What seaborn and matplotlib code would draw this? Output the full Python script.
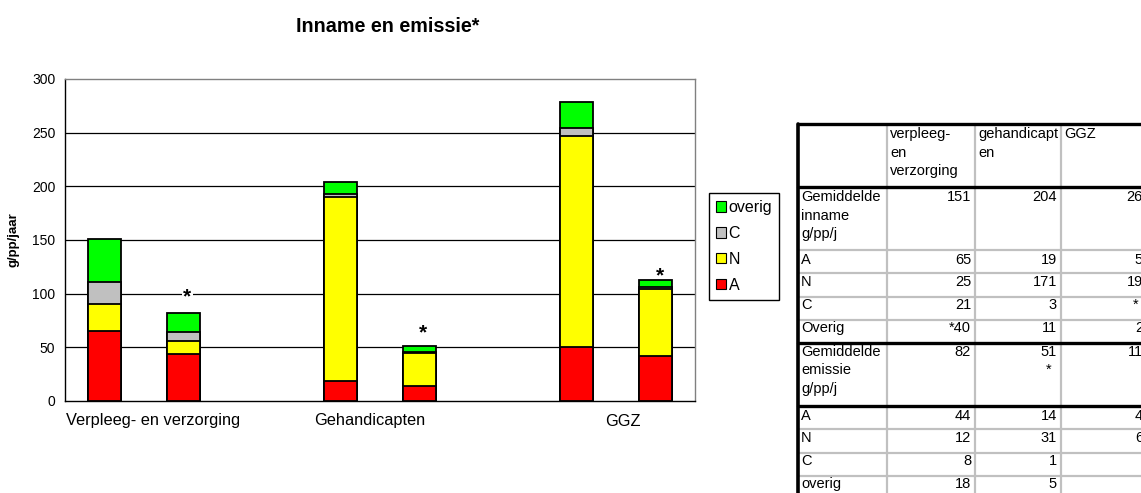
import matplotlib
matplotlib.use("Agg")
import matplotlib.pyplot as plt
import seaborn as sns
import numpy as np
import pandas as pd
from matplotlib.patches import Patch

# ---------------- data ----------------
categories = ["Verpleeg- en verzorging", "Gehandicapten", "GGZ"]
components = ["A", "N", "C", "overig"]
inname_A = [65, 19, 50]
inname_N = [25, 171, 197]
inname_C = [21, 3, 7]
inname_overig = [40, 11, 25]
emissie_A = [44, 14, 42]
emissie_N = [12, 31, 62]
emissie_C = [8, 1, 2]
emissie_overig = [18, 5, 7]
inname_total = [151, 204, 260]
emissie_total = [82, 51, 113]
star_values = [97, 63, 117]          # height of the "*" marks above the emissie bars
yticks = [0, 50, 100, 150, 200, 250, 300]

table_cols = ["verpleeg-\nen\nverzorging", "gehandicapt\nen", "GGZ"]

# ---------------- style ----------------
sns.set_theme(style="white")
plt.rcParams["font.family"] = ["Liberation Sans", "DejaVu Sans"]
plt.rcParams["text.color"] = "black"
plt.rcParams["axes.labelcolor"] = "black"
plt.rcParams["xtick.color"] = "black"
plt.rcParams["ytick.color"] = "black"

colors = {"A": "#FF0000", "N": "#FFFF00", "C": "#C0C0C0", "overig": "#00FF00"}

W, H = 1141, 493
fig = plt.figure(figsize=(W / 100, H / 100), dpi=100)
ax = fig.add_axes([65 / W, 1 - 401 / H, 630 / W, 322 / H])

# positions: inname at slot 3i, emissie at slot 3i+1
rows = []
for i, cat in enumerate(categories):
    rows.append(dict(pos=3 * i, A=inname_A[i], N=inname_N[i], C=inname_C[i], overig=inname_overig[i]))
    rows.append(dict(pos=3 * i + 1, A=emissie_A[i], N=emissie_N[i], C=emissie_C[i], overig=emissie_overig[i]))
df = pd.DataFrame(rows)
df["cum_A"] = df["A"]
df["cum_N"] = df["cum_A"] + df["N"]
df["cum_C"] = df["cum_N"] + df["C"]
df["cum_overig"] = df["cum_C"] + df["overig"]

for comp in ["overig", "C", "N", "A"]:
    sns.barplot(data=df, x="pos", y="cum_" + comp, native_scale=True, color=colors[comp],
                saturation=1, width=0.42, edgecolor="black", linewidth=1.3,
                errorbar=None, ax=ax, zorder=3)

ax.set_xlim(-0.5, 7.5)
ax.set_ylim(0, 300)
ax.set_yticks(yticks)
ax.set_yticklabels([str(v) for v in yticks], fontsize=10)
for v in yticks[1:-1]:
    ax.axhline(v, color="black", lw=0.9, zorder=1)

label_pos = [0.62, 3.37, 6.59]
ax.set_xticks(label_pos)
ax.set_xticklabels(categories, fontsize=11.8)
ax.tick_params(axis="x", length=0, pad=9)
ax.tick_params(axis="y", length=0, pad=7)
ax.set_xlabel("")
ax.set_ylabel("g/pp/jaar", fontsize=9.5, fontweight="bold", labelpad=9)

for side in ["left", "bottom"]:
    ax.spines[side].set_color("black")
    ax.spines[side].set_linewidth(1.0)
for side in ["top", "right"]:
    ax.spines[side].set_color("#808080")
    ax.spines[side].set_linewidth(1.0)
    ax.spines[side].set_visible(True)

# stars above the emissie bars
for i, sv in enumerate(star_values):
    ax.text(3 * i + 1 + 0.05, sv, "*", ha="center", va="center", fontsize=15, fontweight="bold",
            zorder=2.5, bbox=dict(facecolor="white", edgecolor="none", pad=1.0))

# title
fig.text(388 / W, 1 - 27 / H, "Inname en emissie*", ha="center", va="center",
         fontsize=14.2, fontweight="bold")

# legend
handles = [Patch(facecolor=colors[c], edgecolor="black", linewidth=0.8, label=c)
           for c in ["overig", "C", "N", "A"]]
leg = fig.legend(handles=handles, loc="upper left", bbox_to_anchor=(709 / W, 1 - 193 / H),
                 fontsize=11.5, frameon=True, fancybox=False, framealpha=1,
                 handlelength=0.62, handleheight=0.62, handletextpad=0.15,
                 labelspacing=0.68, borderpad=0.45, borderaxespad=0)
leg.get_frame().set_edgecolor("black")
leg.get_frame().set_linewidth(1.0)

# ---------------- table ----------------
tax = fig.add_axes([0, 0, 1, 1])
tax.set_xlim(0, W)
tax.set_ylim(H, 0)
tax.axis("off")

col_x = [798, 887, 975, 1061, 1155]
row_h = [63, 63, 23.25, 23.25, 23.25, 23.25, 63, 23.25, 23.25, 23.25, 23.25]
row_y = [124] + list(np.cumsum(row_h) + 124)

def fmt(v):
    return str(v)

inname_vals = [fmt(v) for v in inname_total]
emissie_vals = [fmt(v) for v in emissie_total]
emissie_vals[1] = emissie_vals[1] + "\n*"
in_C = [fmt(v) for v in inname_C]
in_C[2] = "* " + in_C[2]
in_O = [fmt(v) for v in inname_overig]
in_O[0] = "*" + in_O[0]

table_rows = [
    [""] + table_cols,
    ["Gemiddelde\ninname\ng/pp/j"] + inname_vals,
    ["A"] + [fmt(v) for v in inname_A],
    ["N"] + [fmt(v) for v in inname_N],
    ["C"] + in_C,
    ["Overig"] + in_O,
    ["Gemiddelde\nemissie\ng/pp/j"] + emissie_vals,
    ["A"] + [fmt(v) for v in emissie_A],
    ["N"] + [fmt(v) for v in emissie_N],
    ["C"] + [fmt(v) for v in emissie_C],
    ["overig"] + [fmt(v) for v in emissie_overig],
]

grey = "#C0C0C0"
for j, x in enumerate(col_x[1:-1]):
    tax.plot([x, x], [row_y[0], H + 5], color=grey, lw=1.6, zorder=1)
thick_rows = {0, 1, 6, 7}
for r, y in enumerate(row_y):
    if r in thick_rows:
        tax.plot([col_x[0], W + 5], [y, y], color="black", lw=2.4, zorder=3)
    else:
        tax.plot([col_x[0], W + 5], [y, y], color=grey, lw=1.6, zorder=2)
tax.plot([col_x[0], col_x[0]], [row_y[0], H + 5], color="black", lw=2.6, zorder=3)

for r, row in enumerate(table_rows):
    multi = row_h[r - 1] > 40 if r > 0 else True
    y = row_y[r] + (3.0 if multi else 1.5)
    for c, txt in enumerate(row):
        if r == 0 or c == 0:
            tax.text(col_x[c] + 3, y, txt, ha="left", va="top", fontsize=10.5,
                     linespacing=1.42, zorder=4)
        else:
            tax.text(col_x[c + 1] - 4, y, txt, ha="right", va="top", fontsize=10.5,
                     linespacing=1.42, multialignment="center", zorder=4)

fig.savefig("out.png", dpi=100)
